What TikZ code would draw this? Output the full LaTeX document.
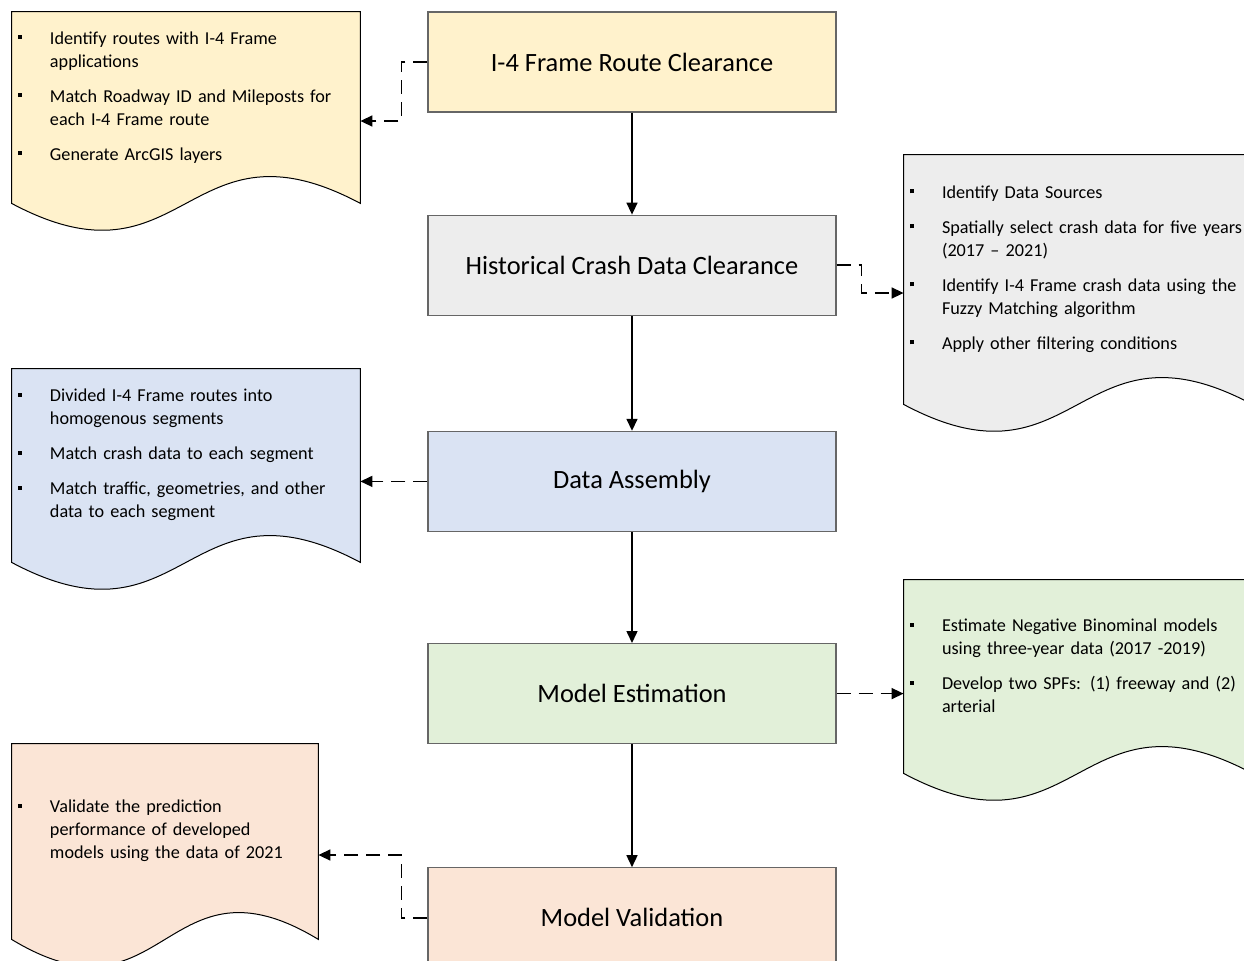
\documentclass[tikz,border=0pt]{standalone}
\usepackage{fontspec}
\setmainfont{Carlito}
\usetikzlibrary{positioning,arrows.meta}

\definecolor{cYellow}{HTML}{FFF2CC}
\definecolor{cGray}{HTML}{EDEDED}
\definecolor{cBlue}{HTML}{DAE3F3}
\definecolor{cGreen}{HTML}{E2F0D9}
\definecolor{cPeach}{HTML}{FBE5D6}

\newcommand{\bitem}[1]{\par\hangindent=16pt\noindent\makebox[16pt][l]{\rule[2.5pt]{2.2pt}{2.2pt}}#1\par}
\newcommand{\wavedoc}[2]{\draw[docline,fill=#2] (#1.north west) -- (#1.north east) -- ([yshift=13.5pt]#1.south east) .. controls ([yshift=60pt]#1.south) and ([yshift=-33pt]#1.south) .. ([yshift=13.5pt]#1.south west) -- cycle;}

\tikzset{
  stage/.style={draw=black!60, line width=0.6pt, minimum width=204pt, minimum height=50pt, inner sep=0pt, font=\fontsize{13.2}{16}\selectfont},
  notebox/.style={minimum width=174pt, inner sep=0pt},
  notetext/.style={anchor=west, inner sep=0pt, text width=210pt, align=left, font=\fontsize{9.1}{11.5}\selectfont\setlength{\parskip}{6pt}},
  docline/.style={draw=black, line width=0.5pt},
  flow/.style={-{Triangle[length=6pt,width=5.5pt]}, line width=0.75pt},
  side/.style={flow, dash pattern=on 7pt off 4pt}
}

\begin{document}
\begin{tikzpicture}[x=0.5pt,y=-0.5pt]
\useasboundingbox (0,0) rectangle (1244,960);

\node[stage, fill=cYellow] (route) at (632,62) {I-4 Frame Route Clearance};
\node[stage, fill=cGray, below=51pt of route] (crash) {Historical Crash Data Clearance};
\node[stage, fill=cBlue, below=57.5pt of crash] (assembly) {Data Assembly};
\node[stage, fill=cGreen, below=55.5pt of assembly] (model) {Model Estimation};
\node[stage, fill=cPeach, below=61.5pt of model] (valid) {Model Validation};

\node[notebox, minimum height=109pt] (routeNote) at (186,121) {};
\node[notebox, minimum height=138pt] (crashNote) at (1078,293) {};
\node[notebox, minimum height=110pt] (assemblyNote) at (186,479) {};
\node[notebox, minimum height=110pt] (modelNote) at (1078,690) {};
\node[notebox, minimum width=153pt, minimum height=111pt] (validNote) at (165,855) {};

\wavedoc{routeNote}{cYellow}
\wavedoc{crashNote}{cGray}
\wavedoc{assemblyNote}{cBlue}
\wavedoc{modelNote}{cGreen}
\wavedoc{validNote}{cPeach}

\node[notetext] (routeText) at ([xshift=3pt,yshift=17.5pt]routeNote.west) {%
\bitem{Identify routes with I-4 Frame\newline applications}
\bitem{Match Roadway ID and Mileposts for\newline each I-4 Frame route}
\bitem{Generate ArcGIS layers}};
\node[notetext] (crashText) at ([xshift=3pt,yshift=17.5pt]crashNote.west) {%
\bitem{Identify Data Sources}
\bitem{Spatially select crash data for five years\newline (2017 – 2021)}
\bitem{Identify I-4 Frame crash data using the\newline Fuzzy Matching algorithm}
\bitem{Apply other filtering conditions}};
\node[notetext] (assemblyText) at ([xshift=3pt,yshift=17.5pt]assemblyNote.west) {%
\bitem{Divided I-4 Frame routes into\newline homogenous segments}
\bitem{Match crash data to each segment}
\bitem{Match traffic, geometries, and other\newline data to each segment}};
\node[notetext] (modelText) at ([xshift=3pt,yshift=17.5pt]modelNote.west) {%
\bitem{Estimate Negative Binominal models\newline using three-year data (2017 -2019)}
\bitem{Develop two SPFs: (1) freeway and (2)\newline arterial}};
\node[notetext] (validText) at ([xshift=3pt,yshift=17.5pt]validNote.west) {%
\bitem{Validate the prediction\newline performance of developed\newline models using the data of 2021}};

\draw[flow] (route) -- (crash);
\draw[flow] (crash) -- (assembly);
\draw[flow] (assembly) -- (model);
\draw[flow] (model) -- (valid);

\draw[side] (route.west) -- ++(-13pt,0pt) |- (routeNote.east);
\draw[side] (crash.east) -- ++(12.5pt,0pt) |- (crashNote.west);
\draw[side] (assembly.west) -- (assembly.west -| assemblyNote.east);
\draw[side] (model.east) -- (model.east -| modelNote.west);
\draw[side] (valid.west) -- ++(-13pt,0pt) |- (validNote.east);
\end{tikzpicture}
\end{document}
